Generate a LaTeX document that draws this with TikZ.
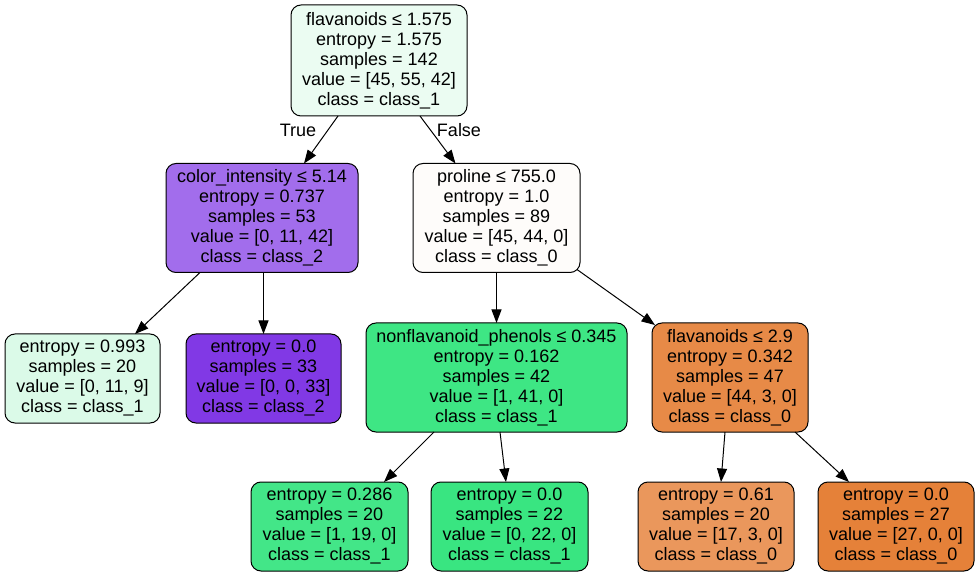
\documentclass[tikz,border=0pt]{standalone}
\usepackage{fontspec}
\setmainfont{Liberation Sans}
\usepackage{tikz}
\usetikzlibrary{positioning}
\usetikzlibrary{shapes,arrows.meta,calc}
\definecolor{cRoot}{RGB}{235,252,242}
\definecolor{cColor}{RGB}{162,109,236}
\definecolor{cProline}{RGB}{254,252,250}
\definecolor{cLeafA}{RGB}{219,250,232}
\definecolor{cPurple}{RGB}{129,57,229}
\definecolor{cNonflav}{RGB}{62,230,132}
\definecolor{cFlav}{RGB}{231,138,71}
\definecolor{cLeafC}{RGB}{67,230,136}
\definecolor{cGreen}{RGB}{57,229,129}
\definecolor{cLeafE}{RGB}{234,151,92}
\definecolor{cOrange}{RGB}{229,129,57}
\tikzset{
    %Define standard arrow tip
    >={Triangle[length=13.5pt,width=10pt]},
    % Define arrow style
    pil/.style={
           ->,
           line width=1pt,}
}
\newcommand{\splitheight}{109pt}
\newcommand{\leafheight}{89pt}

\begin{document}
\begin{tikzpicture}[x=1pt, y=-1pt, outer sep = 0pt]
\tikzstyle{split}=[draw, rectangle, rounded corners=10pt, line width=1pt, minimum height=\splitheight, inner xsep=2pt, align=center, font=\fontsize{18pt}{20pt}\selectfont]
\tikzstyle{leaf}=[draw, rectangle, rounded corners=10pt, line width=1pt, minimum height=\leafheight, inner xsep=2pt, align=center, font=\fontsize{18pt}{20pt}\selectfont]
\tikzstyle{lbl}=[font=\fontsize{18pt}{20pt}\selectfont]

\useasboundingbox (0,0) rectangle (980,577);

\node[split, fill=cRoot, minimum width=176pt, minimum height=111pt] (root) at (379,60.5) {flavanoids ≤ 1.575\\entropy = 1.575\\samples = 142\\value = [45, 55, 42]\\class = class\_1};

\node[split, fill=cColor, minimum width=192pt] (color) at (262,218) {color\_intensity ≤ 5.14\\entropy = 0.737\\samples = 53\\value = [0, 11, 42]\\class = class\_2};
\node[split, fill=cProline, minimum width=167pt] (proline) at (496.5,218) {proline ≤ 755.0\\entropy = 1.0\\samples = 89\\value = [45, 44, 0]\\class = class\_0};

\node[leaf, fill=cLeafA, minimum width=155pt] (leafA) at (82.5,378.5) {entropy = 0.993\\samples = 20\\value = [0, 11, 9]\\class = class\_1};
\node[leaf, fill=cPurple, minimum width=155pt] (leafB) at (263.5,378.5) {entropy = 0.0\\samples = 33\\value = [0, 0, 33]\\class = class\_2};
\node[split, fill=cNonflav, minimum width=261pt] (nonflav) at (496.5,377.5) {nonflavanoid\_phenols ≤ 0.345\\entropy = 0.162\\samples = 42\\value = [1, 41, 0]\\class = class\_1};
\node[split, fill=cFlav, minimum width=156pt] (flav) at (730,377.5) {flavanoids ≤ 2.9\\entropy = 0.342\\samples = 47\\value = [44, 3, 0]\\class = class\_0};

\node[leaf, fill=cLeafC, minimum width=157pt] (leafC) at (329.5,526.5) {entropy = 0.286\\samples = 20\\value = [1, 19, 0]\\class = class\_1};
\node[leaf, fill=cGreen, minimum width=157pt] (leafD) at (509.5,526.5) {entropy = 0.0\\samples = 22\\value = [0, 22, 0]\\class = class\_1};
\node[leaf, fill=cLeafE, minimum width=156pt] (leafE) at (716,526.5) {entropy = 0.61\\samples = 20\\value = [17, 3, 0]\\class = class\_0};
\node[leaf, fill=cOrange, minimum width=156pt] (leafF) at (896,526.5) {entropy = 0.0\\samples = 27\\value = [27, 0, 0]\\class = class\_0};

\node[lbl] (true) at (298,130) {True};
\node[lbl] (false) at (459,130) {False};

\draw[pil] ([xshift=-41pt]root.south) -- ([xshift=42pt]color.north);
\draw[pil] ([xshift=41pt]root.south) -- ([xshift=-41pt]proline.north);
\draw[pil] ([xshift=-62pt]color.south) -- ([xshift=52.5pt]leafA.north);
\draw[pil] (color.south -| leafB) -- (leafB.north);
\draw[pil] (proline.south) -- (nonflav.north);
\draw[pil] ([xshift=-3pt,yshift=3pt]proline.south east) -- ([xshift=3pt,yshift=-2pt]flav.north west);
\draw[pil] ([xshift=-62.5pt]nonflav.south) -- ([xshift=54.5pt]leafC.north);
\draw[pil] ([xshift=3.5pt]nonflav.south) -- ([xshift=-3.5pt]leafD.north);
\draw[pil] ([xshift=-5pt]flav.south) -- ([xshift=5pt]leafE.north);
\draw[pil] ([xshift=65pt]flav.south) -- ([xshift=-47pt]leafF.north);

\end{tikzpicture}
\end{document}
